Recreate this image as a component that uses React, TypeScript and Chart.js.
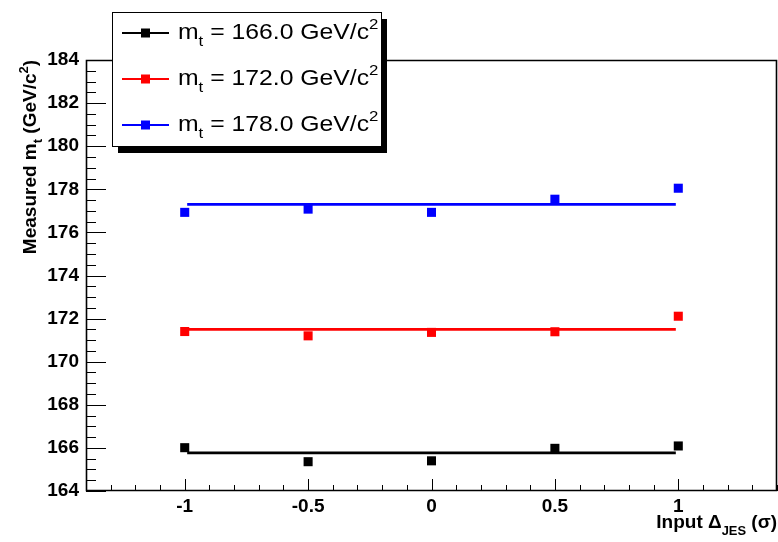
import React, { useEffect, useRef } from "react";
import { Chart, registerables } from "chart.js";

Chart.register(...registerables);

// ---- data ----
const inputJES = [-1, -0.5, 0, 0.5, 1];
const seriesMasses = ["166.0", "172.0", "178.0"];
const seriesColors = ["#000000", "#ff0000", "#0000ff"];
const measured166 = [166.01, 165.36, 165.4, 165.98, 166.09];
const measured172 = [171.4, 171.2, 171.36, 171.39, 172.11];
const measured178 = [176.93, 177.08, 176.93, 177.54, 178.05];
const fitLevels = [165.77, 171.5, 177.3];
const fitRange = [-0.99, 0.99];
const xTickValues = [-1, -0.5, 0, 0.5, 1];
const yTickValues = [164, 166, 168, 170, 172, 174, 176, 178, 180, 182, 184];
const xMinorStep = 0.1;
const yMinorStep = 0.5;
const xLimits = [-1.4, 1.4];
const yLimits = [164, 184];

const FONT = '"Liberation Sans", Arial, Helvetica, sans-serif';

type Part = { t: string; s?: "sub" | "sup"; dy?: number };

function partFont(size: number, weight: string, p: Part) {
  const sz = p.s ? size * 0.68 : size;
  return `${weight} ${sz}px ${FONT}`;
}
function richWidth(ctx: CanvasRenderingContext2D, parts: Part[], size: number, weight: string) {
  let w = 0;
  for (const p of parts) {
    ctx.font = partFont(size, weight, p);
    w += ctx.measureText(p.t).width;
  }
  return w;
}
function drawRich(ctx: CanvasRenderingContext2D, parts: Part[], x: number, y: number, size: number, weight: string) {
  let cx = x;
  ctx.textBaseline = "alphabetic";
  ctx.textAlign = "left";
  for (const p of parts) {
    ctx.font = partFont(size, weight, p);
    let dy = 0;
    if (p.s === "sub") dy = p.dy ?? size * 0.3;
    if (p.s === "sup") dy = p.dy ?? -size * 0.42;
    ctx.fillText(p.t, cx, y + dy);
    cx += ctx.measureText(p.t).width;
  }
}

const rootStyle = {
  id: "rootStyle",
  afterDraw(chart: any) {
    const ctx: CanvasRenderingContext2D = chart.ctx;
    const { left, right, top, bottom } = chart.chartArea;
    const xs = chart.scales.x;
    const ys = chart.scales.y;
    ctx.save();
    ctx.strokeStyle = "#000";
    ctx.fillStyle = "#000";

    // ticks
    ctx.lineWidth = 1;
    ctx.beginPath();
    for (const v of yTickValues) {
      const py = Math.round(ys.getPixelForValue(v)) + 0.5;
      ctx.moveTo(left, py);
      ctx.lineTo(left + 20, py);
    }
    for (let v = yLimits[0]; v <= yLimits[1] + 1e-9; v += yMinorStep) {
      if (Math.abs(v / 2 - Math.round(v / 2)) < 1e-6) continue;
      const py = Math.round(ys.getPixelForValue(v)) + 0.5;
      ctx.moveTo(left, py);
      ctx.lineTo(left + 10, py);
    }
    for (const v of xTickValues) {
      const px = Math.round(xs.getPixelForValue(v)) + 0.5;
      ctx.moveTo(px, bottom);
      ctx.lineTo(px, bottom - 12);
    }
    const nMinor = Math.round((xLimits[1] - xLimits[0]) / xMinorStep);
    for (let i = 0; i <= nMinor; i++) {
      const v = xLimits[0] + i * xMinorStep;
      if (Math.abs(v * 2 - Math.round(v * 2)) < 1e-6) continue;
      const px = Math.round(xs.getPixelForValue(v)) + 0.5;
      ctx.moveTo(px, bottom);
      ctx.lineTo(px, bottom - 6);
    }
    ctx.stroke();

    // frame
    ctx.lineWidth = 1.6;
    ctx.beginPath();
    ctx.moveTo(left + 0.5, top + 0.5);
    ctx.lineTo(right - 0.5, top + 0.5);
    ctx.lineTo(right - 0.5, bottom - 0.5);
    ctx.lineTo(left + 0.5, bottom - 0.5);
    ctx.closePath();
    ctx.stroke();

    // y title
    const yParts: Part[] = [
      { t: "Measured m" },
      { t: "t", s: "sub" },
      { t: " (GeV/c" },
      { t: "2", s: "sup" },
      { t: ")" },
    ];
    const yw = richWidth(ctx, yParts, 19, "bold");
    ctx.save();
    ctx.translate(36, top);
    ctx.rotate(-Math.PI / 2);
    drawRich(ctx, yParts, -yw, 0, 19, "bold");
    ctx.restore();

    // x title
    const xParts: Part[] = [
      { t: "Input \u0394" },
      { t: "JES", s: "sub", dy: 7 },
      { t: " (\u03c3)" },
    ];
    const xw = richWidth(ctx, xParts, 19, "bold");
    drawRich(ctx, xParts, right - xw, 528, 19, "bold");

    // legend
    const bx = 112, by = 12, bw = 269, bh = 134;
    ctx.fillStyle = "#000";
    ctx.fillRect(bx + 6, by + 7, bw, bh);
    ctx.fillStyle = "#fff";
    ctx.fillRect(bx, by, bw, bh);
    ctx.lineWidth = 1;
    ctx.strokeStyle = "#000";
    ctx.strokeRect(bx + 0.5, by + 0.5, bw, bh);
    seriesMasses.forEach((m, i) => {
      const cy = 33 + i * 46;
      ctx.strokeStyle = seriesColors[i];
      ctx.lineWidth = 2;
      ctx.beginPath();
      ctx.moveTo(122, cy);
      ctx.lineTo(169, cy);
      ctx.stroke();
      ctx.fillStyle = seriesColors[i];
      ctx.fillRect(141, cy - 4.5, 9, 9);
      ctx.fillStyle = "#000";
      ctx.save();
      ctx.translate(178, cy + 5.5);
      ctx.scale(1.125, 1);
      drawRich(
        ctx,
        [{ t: "m" }, { t: "t", s: "sub", dy: 7 }, { t: ` = ${m} GeV/c` }, { t: "2", s: "sup", dy: -10 }],
        0,
        0,
        22,
        "normal"
      );
      ctx.restore();
    });
    ctx.restore();
  },
};

const seriesValues = [measured166, measured172, measured178];

export default function App() {
  const ref = useRef<HTMLCanvasElement | null>(null);
  useEffect(() => {
    if (!ref.current) return;
    const datasets: any[] = [];
    seriesValues.forEach((vals, i) => {
      datasets.push({
        label: `fit ${seriesMasses[i]}`,
        data: fitRange.map((x) => ({ x, y: fitLevels[i] })),
        showLine: true,
        borderColor: seriesColors[i],
        borderWidth: 2.6,
        pointRadius: 0,
        order: 2,
      });
    });
    seriesValues.forEach((vals, i) => {
      datasets.push({
        label: `m_t = ${seriesMasses[i]} GeV/c2`,
        data: inputJES.map((x, k) => ({ x, y: vals[k] })),
        showLine: false,
        pointStyle: "rect",
        pointRadius: 6.4,
        pointBorderWidth: 0,
        pointBackgroundColor: seriesColors[i],
        backgroundColor: seriesColors[i],
        borderColor: seriesColors[i],
        order: 1,
      });
    });
    const chart = new Chart(ref.current, {
      type: "scatter",
      data: { datasets },
      options: {
        animation: false,
        responsive: false,
        devicePixelRatio: 1,
        layout: { autoPadding: false, padding: { top: 60, right: 1, left: 0, bottom: 0 } },
        plugins: { legend: { display: false }, tooltip: { enabled: false } },
        scales: {
          x: {
            type: "linear",
            min: xLimits[0],
            max: xLimits[1],
            grid: { display: false, drawTicks: false },
            border: { display: false },
            afterBuildTicks: (s: any) => {
              s.ticks = xTickValues.map((v) => ({ value: v }));
            },
            afterFit: (s: any) => {
              s.height = 51;
              s.paddingLeft = 0;
              s.paddingRight = 0;
            },
            ticks: {
              padding: 4,
              color: "#000",
              font: { family: FONT, size: 19, weight: "bold" },
              callback: (v: any) => String(v),
              maxRotation: 0,
              autoSkip: false,
            },
          },
          y: {
            type: "linear",
            min: yLimits[0],
            max: yLimits[1],
            grid: { display: false, drawTicks: false },
            border: { display: false },
            afterBuildTicks: (s: any) => {
              s.ticks = yTickValues.map((v) => ({ value: v }));
            },
            afterFit: (s: any) => {
              s.width = 86;
              s.paddingTop = 0;
              s.paddingBottom = 0;
            },
            ticks: {
              padding: 7,
              color: "#000",
              font: { family: FONT, size: 19, weight: "bold" },
              callback: (v: any) => String(v),
              autoSkip: false,
            },
          },
        },
      },
      plugins: [rootStyle],
    });
    return () => chart.destroy();
  }, []);
  return (
    <div style={{ position: "absolute", left: 0, top: 0, width: 778, height: 542, background: "#fff" }}>
      <canvas ref={ref} width={778} height={542} />
    </div>
  );
}
